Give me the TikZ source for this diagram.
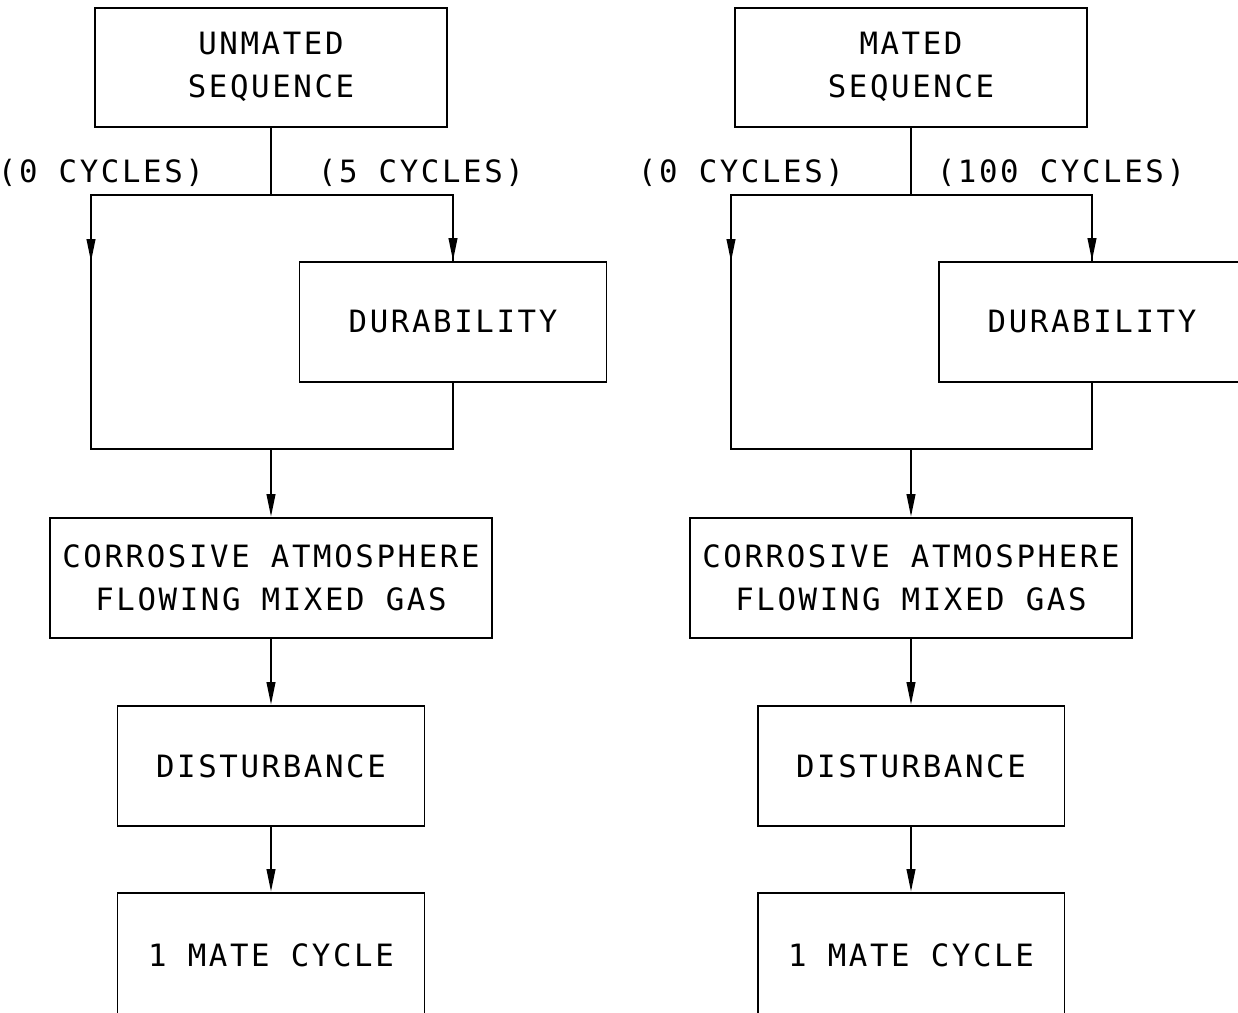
\documentclass[tikz,border=0pt]{standalone}
\usepackage{fontspec}
\newfontfamily\cadfont{DejaVu Sans Mono}[LetterSpace=8.5]
\usetikzlibrary{arrows.meta}

\begin{document}
\begin{tikzpicture}[x=0.02cm,y=-0.02cm,line width=1pt,
		>={Triangle[length=0.46cm,width=0.17cm]},
		every node/.style={font=\cadfont\fontsize{17.5}{24.4}\selectfont}]
			\tikzstyle{test_box}= [draw,rectangle,line width=1.1pt,minimum width=6.14cm,minimum height=2.4cm,align=center]
			\tikzstyle{flow_arrow}= [->,line width=1.4pt]
			\useasboundingbox (0,0) rectangle (1238,1013);
			\clip (0,0) rectangle (1238,1013);
			% unmated sequence
			\node [test_box,minimum width=7.04cm,minimum height=2.38cm] (u0) at (271,67.5) {\raisebox{0.1cm}{\begin{tabular}{@{}c@{}}UNMATED\\SEQUENCE\end{tabular}}};
			\node [test_box] (u1) at (453,322) {DURABILITY};
			\node [test_box,minimum width=8.84cm] (u2) at (271,578) {CORROSIVE ATMOSPHERE\\FLOWING MIXED GAS};
			\node [test_box] (u3) at (271,766) {DISTURBANCE};
			\node [test_box,minimum height=2.5cm] (u4) at (271,955.5) {1 MATE CYCLE};
			\node (uc0) at (101,173) {(0 CYCLES)};
			\node (uc1) at (421,173) {(5 CYCLES)};
			\coordinate (uj1) at (271,195);
			\coordinate (ul1) at (91,262);
			\coordinate (uj2) at (271,449);
			\draw (u0.south) -- (uj1);
			\draw (uj1) -| (ul1);
			\draw (uj1) -| (u1.north);
			\draw [flow_arrow] (ul1 |- uj1) -- (ul1);
			\draw [flow_arrow] (u1.north |- uj1) -- (u1.north);
			\draw (ul1) |- (uj2) -| (u1.south);
			\draw [flow_arrow] (uj2) -- (u2.north);
			\draw [flow_arrow] (u2) -- (u3);
			\draw [flow_arrow] (u3) -- (u4);
			% mated sequence
			\node [test_box,minimum width=7.04cm,minimum height=2.38cm] (m0) at (911,67.5) {\raisebox{0.1cm}{\begin{tabular}{@{}c@{}}MATED\\SEQUENCE\end{tabular}}};
			\node [test_box] (m1) at (1092,322) {DURABILITY};
			\node [test_box,minimum width=8.84cm] (m2) at (911,578) {CORROSIVE ATMOSPHERE\\FLOWING MIXED GAS};
			\node [test_box] (m3) at (911,766) {DISTURBANCE};
			\node [test_box,minimum height=2.5cm] (m4) at (911,955.5) {1 MATE CYCLE};
			\node (mc0) at (741,173) {(0 CYCLES)};
			\node (mc1) at (1061,173) {(100 CYCLES)};
			\coordinate (mj1) at (911,195);
			\coordinate (ml1) at (731,262);
			\coordinate (mj2) at (911,449);
			\draw (m0.south) -- (mj1);
			\draw (mj1) -| (ml1);
			\draw (mj1) -| (m1.north);
			\draw [flow_arrow] (ml1 |- mj1) -- (ml1);
			\draw [flow_arrow] (m1.north |- mj1) -- (m1.north);
			\draw (ml1) |- (mj2) -| (m1.south);
			\draw [flow_arrow] (mj2) -- (m2.north);
			\draw [flow_arrow] (m2) -- (m3);
			\draw [flow_arrow] (m3) -- (m4);
		\end{tikzpicture}
\end{document}
